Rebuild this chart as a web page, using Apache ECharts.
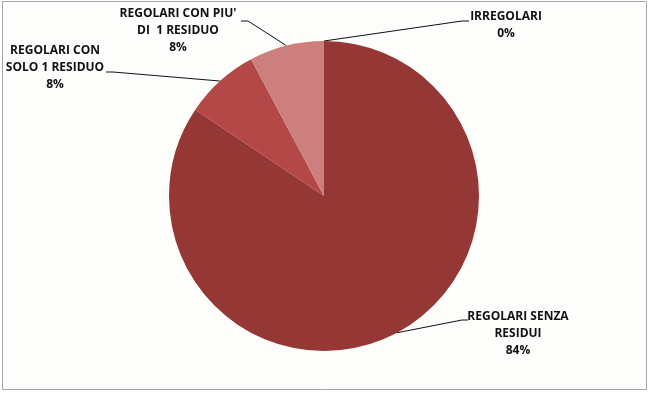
<!DOCTYPE html>
<html>
<head>
<meta charset="utf-8">
<script src="https://cdn.jsdelivr.net/npm/echarts@6/dist/echarts.min.js"></script>
<style>
html,body{margin:0;padding:0;background:#ffffff;}
#chart{width:650px;height:393px;}
</style>
</head>
<body>
<div id="chart"></div>
<script>
// Data
const categories = [
  "REGOLARI SENZA\nRESIDUI",
  "REGOLARI CON\nSOLO 1 RESIDUO",
  "REGOLARI CON PIU'\nDI  1 RESIDUO",
  "IRREGOLARI"
];
const values = [84.4, 7.8, 7.8, 0];
const colors = ["#953735", "#B34846", "#CD7F7E", "#7F2E2C"];

// label placement (label block centre) and leader line elbow, per slice
const labelPos = [
  {x: 518, y: 334, elbow: [[462, 320], [468, 320]]},
  {x: 55,  y: 68,  elbow: [[113, 72], [106, 72]]},
  {x: 178, y: 31,  elbow: [[248, 21], [241, 21]]},
  {x: 506, y: 25,  elbow: [[462, 21], [469, 21]]}
];

const chart = echarts.init(document.getElementById('chart'), null, {renderer: 'canvas'});
const option = {
  backgroundColor: '#ffffff',
  animation: false,
  graphic: [{
    type: 'rect',
    z: -10,
    shape: {x: 2.5, y: 1.5, width: 644, height: 388},
    style: {fill: '#FDFDFB', stroke: '#A6A6A6', lineWidth: 1}
  }],
  series: [{
    type: 'pie',
    center: [324, 196],
    radius: 155,
    startAngle: 90,
    clockwise: true,
    percentPrecision: 0,
    avoidLabelOverlap: false,
    data: categories.map((c, i) => ({
      name: c,
      value: values[i],
      itemStyle: {color: colors[i]}
    })),
    itemStyle: {borderWidth: 0},
    emphasis: {disabled: true},
    label: {
      show: true,
      position: 'outside',
      formatter: p => p.name + '\n' + p.percent + '%',
      fontFamily: 'Open Sans',
      fontWeight: 'bold',
      fontSize: 12,
      lineHeight: 17,
      color: '#111111',
      align: 'center'
    },
    labelLine: {
      show: true,
      length: 10,
      length2: 10,
      lineStyle: {color: '#111111', width: 1}
    },
    labelLayout: function (params) {
      const lp = labelPos[params.dataIndex];
      const anchor = params.labelLinePoints ? params.labelLinePoints[0] : null;
      const res = {x: lp.x, y: lp.y, align: 'center', verticalAlign: 'middle'};
      if (anchor) {
        res.labelLinePoints = [anchor, lp.elbow[0], lp.elbow[1]];
      }
      return res;
    }
  }]
};
chart.setOption(option);
</script>
</body>
</html>
